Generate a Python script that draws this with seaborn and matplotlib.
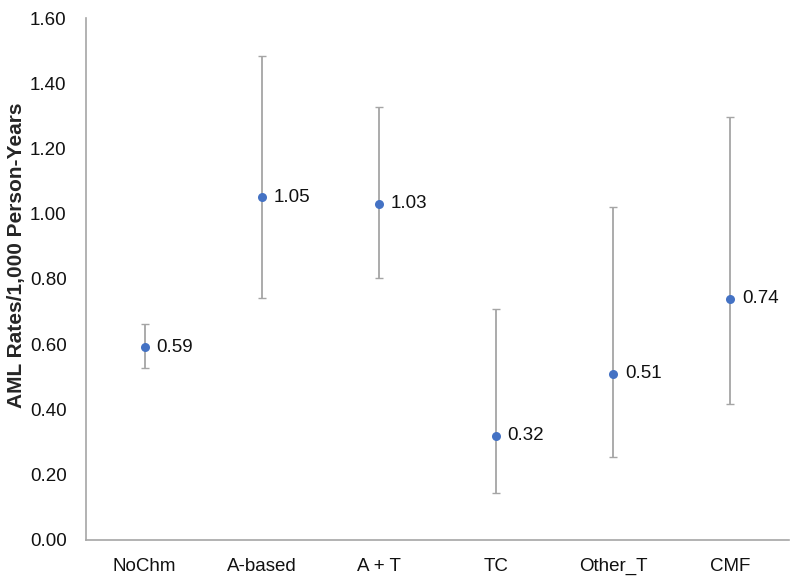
import seaborn as sns
import matplotlib.pyplot as plt
import pandas as pd

# AML rates per 1,000 person-years with 95% CI
groups = ["NoChm", "A-based", "A + T", "TC", "Other_T", "CMF"]
rates = [0.59, 1.05, 1.03, 0.32, 0.51, 0.74]
lower = [0.527, 0.742, 0.803, 0.144, 0.254, 0.417]
upper = [0.662, 1.483, 1.327, 0.708, 1.021, 1.297]

df = pd.DataFrame({"group": groups, "rate": rates, "lo": lower, "hi": upper})

sns.set_style("white")
plt.rcParams['font.family'] = ['Liberation Sans', 'DejaVu Sans']

fig, ax = plt.subplots(figsize=(8, 5.83), dpi=100)
fig.subplots_adjust(left=0.1075, right=0.986, bottom=0.074, top=0.969)

# error bars first, points on top
pos = range(len(df))
ax.errorbar(list(pos), df["rate"],
            yerr=[df["rate"] - df["lo"], df["hi"] - df["rate"]],
            fmt="none", ecolor="#A5A5A5", elinewidth=1.3, capsize=3, capthick=1.0, zorder=2)
sns.stripplot(x="group", y="rate", data=df, jitter=False, color="#4472C4",
              size=6.5, linewidth=0, ax=ax, zorder=3)

for i, r in enumerate(df["rate"]):
    ax.text(i + 0.1, r, f"{r:.2f}", va="center", ha="left", fontsize=13.5, color="#111111")

ax.set_xlim(-0.5, len(df) - 0.5)
ax.set_ylim(0, 1.6)
ax.set_yticks([i * 0.2 for i in range(9)])
ax.set_yticklabels([f"{i * 0.2:.2f}" for i in range(9)])
ax.set_xlabel("")
ax.set_ylabel("AML Rates/1,000 Person-Years", fontsize=15, fontweight="bold")
ax.yaxis.set_label_coords(-0.085, 0.546)
ax.tick_params(axis="y", length=0, labelsize=13.5, colors="#111111", pad=14)
ax.tick_params(axis="x", length=0, labelsize=13.5, colors="#111111", pad=13)

for side in ["top", "right"]:
    ax.spines[side].set_visible(False)
for side in ["left", "bottom"]:
    ax.spines[side].set_color("#A6A6A6")
    ax.spines[side].set_linewidth(1.2)

plt.savefig("out.png", dpi=100)
